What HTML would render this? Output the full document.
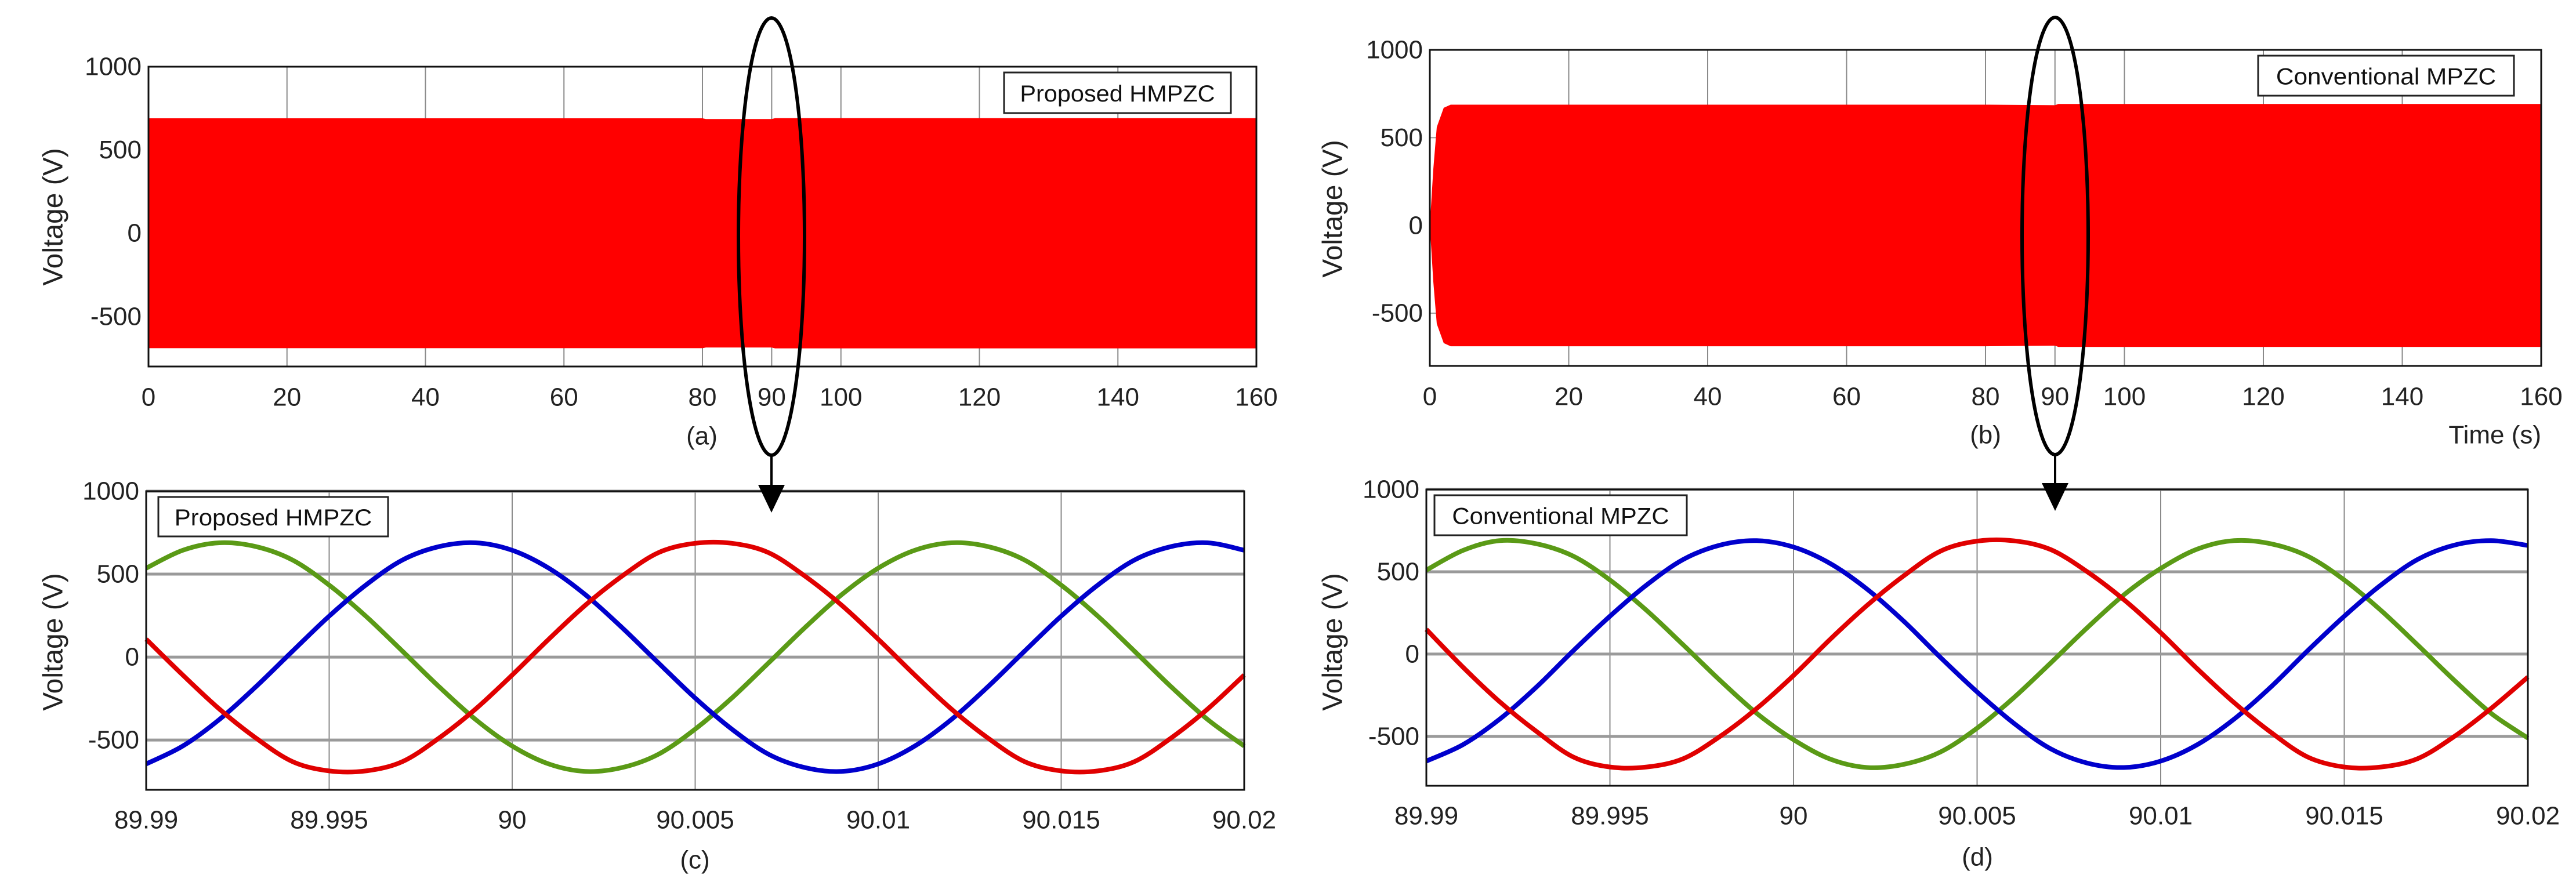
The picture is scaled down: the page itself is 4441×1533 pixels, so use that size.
<!DOCTYPE html>
<html><head><meta charset="utf-8"><style>
html,body{margin:0;padding:0;background:#fff;}
svg{display:block;font-family:"Liberation Sans",Arial,sans-serif;}
</style></head><body>
<svg id="fig" width="4441" height="1533" viewBox="0 0 4441 1533" xmlns="http://www.w3.org/2000/svg"></svg>
<script>
// ---------- data ----------
const topTicks = [0,20,40,60,80,90,100,120,140,160];
const yTicks = [1000,500,0,-500];
const aTimes = [0,80,80.5,90,90.5,160];
const aUpper = [690,690,686,686,691,691];
const aLower = [-690,-690,-686,-686,-691,-691];
const bTimes = [0,0.5,1,2,3,80,90,90.5,160];
const bUpper = [0,320,560,670,688,688,685,692,692];
const bLower = [0,-320,-560,-670,-688,-688,-685,-692,-692];
const zoomTicks = [89.99,89.995,90,90.005,90.01,90.015,90.02];
const zoomTickLabels = ["89.99","89.995","90","90.005","90.01","90.015","90.02"];
const zTimes = [89.99,89.991,89.992,89.993,89.994,89.995,89.996,89.997,89.998,89.999,90,90.001,90.002,90.003,90.004,90.005,90.006,90.007,90.008,90.009,90.01,90.011,90.012,90.013,90.014,90.015,90.016,90.017,90.018,90.019,90.02];
const cRed = [108,-108,-313,-488,-630,-686,-686,-630,-488,-313,-108,108,313,488,630,686,686,630,488,313,108,-108,-313,-488,-630,-686,-686,-630,-488,-313,-108];
const cBlue = [-644,-536,-376,-178,36,247,434,585,666,689,644,536,376,178,-36,-247,-434,-585,-666,-689,-644,-536,-376,-178,36,247,434,585,666,689,644];
const cGreen = [536,644,689,666,585,434,247,36,-178,-376,-536,-644,-689,-666,-585,-434,-247,-36,178,376,536,644,689,666,585,434,247,36,-178,-376,-536];
const dRed = [150,-80,-290,-470,-625,-686,-686,-635,-500,-330,-130,90,295,475,625,686,688,635,500,330,130,-90,-295,-475,-625,-686,-686,-635,-500,-330,-140];
const dBlue = [-650,-550,-395,-200,20,230,420,575,662,689,650,550,395,200,-20,-230,-420,-575,-662,-689,-650,-550,-395,-200,20,230,420,575,662,689,660];
const dGreen = [510,630,689,670,595,450,265,55,-160,-360,-520,-638,-689,-670,-595,-450,-265,-55,160,360,520,638,689,670,595,450,265,55,-160,-360,-510];

// ---------- helpers ----------
const NS="http://www.w3.org/2000/svg";
const svg=document.getElementById('fig');
function el(tag,attrs,parent){const e=document.createElementNS(NS,tag);for(const k in attrs)e.setAttribute(k,attrs[k]);(parent||svg).appendChild(e);return e;}
function txt(s,attrs,parent){const e=el('text',attrs,parent);e.textContent=s;return e;}
function lin(d0,d1,r0,r1){return v=>r0+(v-d0)/(d1-d0)*(r1-r0);}
function smooth(pts){let d=`M${pts[0][0]},${pts[0][1]}`;for(let i=0;i<pts.length-1;i++){const p0=pts[i-1]||pts[i],p1=pts[i],p2=pts[i+1],p3=pts[i+2]||p2;
 const c1=[p1[0]+(p2[0]-p0[0])/6,p1[1]+(p2[1]-p0[1])/6],c2=[p2[0]-(p3[0]-p1[0])/6,p2[1]-(p3[1]-p1[1])/6];
 d+=`C${c1[0]},${c1[1]} ${c2[0]},${c2[1]} ${p2[0]},${p2[1]}`;}return d;}

function panel(cfg){
 const g=el('g',{});
 
 
 const x=lin(cfg.xd[0],cfg.xd[1],cfg.L,cfg.R), y=lin(-800,1000,cfg.B,cfg.T);
 cfg.xt.forEach(t=>{const l=el('line',{x1:x(t),x2:x(t),y1:cfg.T,y2:cfg.B,stroke:'#8a8a8a','stroke-width':2},g);
  
  });
 yTicks.forEach(t=>{const l=el('line',{x1:cfg.L,x2:cfg.R,y1:y(t),y2:y(t),stroke:'#9a9a9a','stroke-width':cfg.hgw},g);
  
  });
 cfg.draw(g,x,y);
 const box=el('rect',{x:cfg.L,y:cfg.T,width:cfg.R-cfg.L,height:cfg.B-cfg.T,fill:'none',stroke:'#111','stroke-width':3},g);
 
 
 cfg.xt.forEach((t,i)=>{const s=txt(cfg.xl[i],{x:x(t),y:cfg.xly,'font-size':44,'text-anchor':'middle','dominant-baseline':'central',fill:'#222'},g);
  
  });
 yTicks.forEach(t=>{const s=txt(String(t),{x:cfg.L-12,y:y(t),'font-size':44,'text-anchor':'end','dominant-baseline':'central',fill:'#222'},g);
  
  });
 const yl=txt('Voltage (V)',{x:0,y:0,'font-size':48,'text-anchor':'middle','dominant-baseline':'central',fill:'#222','font-weight':'500',transform:`translate(${cfg.ylx},${cfg.yly}) rotate(-90)`},g);
 
 
 const cap=txt(cfg.cap,{x:cfg.capx,y:cfg.capy,'font-size':44,'text-anchor':'middle','dominant-baseline':'central',fill:'#222'},g);
 
 
 const lb=el('rect',{x:cfg.lg[0],y:cfg.lg[1],width:cfg.lg[2]-cfg.lg[0],height:cfg.lg[3]-cfg.lg[1],fill:'#fff',stroke:'#222','stroke-width':3},g);
 
 
 const lt=txt(cfg.legend,{x:(cfg.lg[0]+cfg.lg[2])/2,y:(cfg.lg[1]+cfg.lg[3])/2+2,'font-size':40,'text-anchor':'middle','dominant-baseline':'central',fill:'#111',textLength:(cfg.lg[2]-cfg.lg[0])*0.86,lengthAdjust:'spacingAndGlyphs'},g);
 
 
 return g;
}
function band(times,up,lo){return (g,x,y)=>{
 let d='M'+times.map((t,i)=>`${x(t)},${y(up[i])}`).join('L');
 for(let i=times.length-1;i>=0;i--)d+=`L${x(times[i])},${y(lo[i])}`;
 const p=el('path',{d:d+'Z',fill:'#ff0000'},g);
 
 };}
function waves(r,b,gr){return (g,x,y)=>{
 [[gr,'#5a9a16','phase-c-line'],[b,'#0000cc','phase-b-line'],[r,'#e00000','phase-a-line']].forEach(([arr,c,n])=>{
  const p=el('path',{d:smooth(zTimes.map((t,i)=>[x(t),y(arr[i])])),fill:'none',stroke:c,'stroke-width':8,'stroke-linejoin':'round'},g);
  
  });};}

panel({name:'panel-a',L:256,R:2166,T:115,B:632,xd:[0,160],xt:topTicks,xl:topTicks.map(String),xly:685,hgw:2,draw:band(aTimes,aUpper,aLower),ylx:92,yly:374,cap:'(a)',capx:1210,capy:752,lg:[1731,125,2122,195],legend:'Proposed HMPZC'});
panel({name:'panel-b',L:2465,R:4381,T:86,B:631,xd:[0,160],xt:topTicks,xl:topTicks.map(String),xly:684,hgw:2,draw:band(bTimes,bUpper,bLower),ylx:2298,yly:360,cap:'(b)',capx:3423,capy:750,lg:[3893,96,4334,165],legend:'Conventional MPZC'});
panel({name:'panel-c',L:252,R:2145,T:847,B:1362,xd:[89.99,90.02],xt:zoomTicks,xl:zoomTickLabels,xly:1414,hgw:5,draw:waves(cRed,cBlue,cGreen),ylx:92,yly:1107,cap:'(c)',capx:1198,capy:1483,lg:[273,857,669,925],legend:'Proposed HMPZC'});
panel({name:'panel-d',L:2459,R:4358,T:844,B:1355,xd:[89.99,90.02],xt:zoomTicks,xl:zoomTickLabels,xly:1407,hgw:5,draw:waves(dRed,dBlue,dGreen),ylx:2298,yly:1107,cap:'(d)',capx:3409,capy:1478,lg:[2473,854,2908,923],legend:'Conventional MPZC'});

const ts=txt('Time (s)',{x:4381,y:750,'font-size':44,'text-anchor':'end','dominant-baseline':'central',fill:'#222'});



[[1330,408,884],[3543,407,881]].forEach(([cx,cy,tip])=>{
 const e=el('ellipse',{cx:cx,cy:cy,rx:57,ry:377,fill:'none',stroke:'#000','stroke-width':6});
 
 
 const l=el('line',{x1:cx,x2:cx,y1:cy+377,y2:tip-40,stroke:'#000','stroke-width':4});
 
 
 const h=el('polygon',{points:`${cx-23},${tip-48} ${cx+23},${tip-48} ${cx},${tip}`,fill:'#000'});
 
 
});
</script>
</body></html>
